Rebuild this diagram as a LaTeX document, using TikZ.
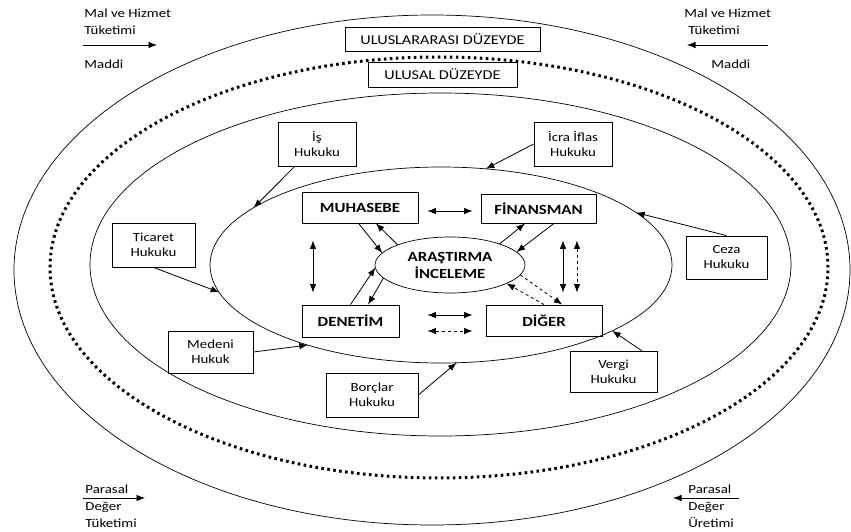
\documentclass[tikz,border=0pt]{standalone}
\usepackage{fontspec}
\setmainfont[FakeStretch=1.2]{Carlito}
\usetikzlibrary{shapes.geometric,arrows.meta}

\begin{document}
\begin{tikzpicture}[x=1pt,y=-1pt,line width=0.8pt,
		halka/.style={draw,ellipse,inner sep=0pt,outer sep=0pt,line width=0.7pt},
		noktali/.style={line width=3pt,dash pattern=on 2.6pt off 3.4pt},
		duzey/.style={draw,inner sep=0pt,minimum height=24,font=\fontsize{13.5}{16}\selectfont},
		hukuk/.style={draw,inner sep=0pt,align=center,font=\fontsize{12.4}{15}\selectfont},
		alan/.style={draw,inner sep=0pt,font=\bfseries\fontsize{14}{17}\selectfont},
		yazi/.style={anchor=base west,inner sep=0pt,font=\fontsize{12.4}{15}\selectfont},
		ok/.style={-{Latex[length=8.5pt,width=6.5pt]}},
		cift/.style={{Latex[length=8.5pt,width=6.5pt]}-{Latex[length=8.5pt,width=6.5pt]}}]
			\useasboundingbox (0,0) rectangle (851,532);
			
			% halkalar
			\node [halka,minimum width=836,minimum height=510] (dis) at (432,270) {};
			\node [halka,noktali,minimum width=778,minimum height=421] (nokta) at (439,267.5) {};
			\node [halka,minimum width=701,minimum height=343] (orta) at (440.5,264.5) {};
			\node [halka,minimum width=462,minimum height=196] (ic) at (441,265) {};
			\node [halka,align=center,font=\bfseries\fontsize{14}{17}\selectfont,minimum width=150,minimum height=56] (ara) at (450,265) {ARAŞTIRMA\\İNCELEME};
			
			\node [duzey,minimum width=195] (ulusarasi) at (442.5,39) {ULUSLARARASI DÜZEYDE};
			\node [duzey,minimum width=149,minimum height=25] (ulusal) at (442.5,74.5) {ULUSAL DÜZEYDE};
			
			\node [alan,minimum width=116,minimum height=31] (muh) at (360,207.5) {MUHASEBE};
			\node [alan,minimum width=115,minimum height=29] (fin) at (538.5,208.5) {FİNANSMAN};
			\node [alan,minimum width=97,minimum height=32] (den) at (350.5,321) {DENETİM};
			\node [alan,minimum width=116,minimum height=31] (dig) at (544,320.5) {DİĞER};
			
			\node [hukuk,minimum width=78,minimum height=44] (is) at (317,144) {İş\\Hukuku};
			\node [hukuk,minimum width=78,minimum height=44] (icra) at (573,144) {İcra İflas\\Hukuku};
			\node [hukuk,minimum width=83,minimum height=44] (ticaret) at (153.5,245) {Ticaret\\Hukuku};
			\node [hukuk,minimum width=85,minimum height=42] (medeni) at (210.5,352) {Medeni\\Hukuk};
			\node [hukuk,minimum width=81,minimum height=43] (ceza) at (726.5,257.5) {Ceza\\Hukuku};
			\node [hukuk,minimum width=87,minimum height=41] (vergi) at (613.5,372) {Vergi\\Hukuku};
			\node [hukuk,minimum width=92,minimum height=44] (borclar) at (372,395) {Borçlar\\Hukuku};
			
			% kenar yazilari
			\node [yazi] (malsol) at (84,18) {Mal ve Hizmet};
			\node [yazi] (tuksol) at (84,35) {Tüketimi};
			\node [yazi] (maddisol) at (84,69) {Maddi};
			\coordinate (ustsol1) at (83,45);
			\coordinate (ustsol2) at (157,45);
			
			\node [yazi] (malsag) at (684,18) {Mal ve Hizmet};
			\node [yazi] (tuksag) at (688,35) {Tüketimi};
			\node [yazi] (maddisag) at (711,69) {Maddi};
			\coordinate (ustsag1) at (768,45);
			\coordinate (ustsag2) at (687,45);
			
			\node [yazi] (parsol) at (85,493) {Parasal};
			\node [yazi] (degsol) at (85,510) {Değer};
			\node [yazi] (tuketim) at (85,527) {Tüketimi};
			\coordinate (altsol1) at (83,498);
			\coordinate (altsol2) at (145,498);
			
			\node [yazi] (parsag) at (688,493) {Parasal};
			\node [yazi] (degsag) at (688,510) {Değer};
			\node [yazi] (uretim) at (688,527) {Üretimi};
			\coordinate (altsag1) at (739,498);
			\coordinate (altsag2) at (673,498);
			
			\draw [ok] (ustsol1) -- (ustsol2);
			\draw [ok] (ustsag1) -- (ustsag2);
			\draw [ok] (altsol1) -- (altsol2);
			\draw [ok] (altsag1) -- (altsag2);
			
			% hukuk oklari
			\draw [ok] (is) -- (ic.163.5);
			\draw [ok] (icra.west) -- (ic.65.5);
			\draw [ok] (ticaret.south) -- (ic.187);
			\draw [ok] (medeni.east) -- (ic.211.7);
			\draw [ok] (ceza.north) -- (ic.15);
			\draw [ok] (vergi.36) -- (ic.339.3);
			\draw [ok] (borclar.east) -- (ic.279.6);
			
			% ic oklar
			\draw [ok] (muh.-95) -- (ara.170);
			\draw [ok] (ara.159) -- (muh.-45);
			\draw [ok] (ara.23) -- (fin.228);
			\draw [ok] (fin.-44) -- (ara.11);
			\draw [ok] (den.north) -- (ara.182);
			\draw [ok] (ara.191) -- (den.43);
			\draw [ok,dashed] (ara.-8) -- (dig.41);
			\draw [ok,dashed] (dig.north) -- (ara.-18);
			
			\draw [cift,shorten <=9,shorten >=8] ([yshift=-3.5]muh.east) -- ([yshift=-2.5]fin.west);
			\draw [cift,shorten <=28,shorten >=13] ([yshift=6]den.east) -- ([yshift=5.5]dig.west);
			\draw [cift,dashed,shorten <=28,shorten >=13] ([yshift=-10]den.east) -- ([yshift=-10.5]dig.west);
			\draw [cift,shorten <=17,shorten >=12] ([xshift=-47]muh.south) -- ([xshift=-37.5]den.north);
			\draw [cift,shorten <=17,shorten >=12] ([xshift=24.5]fin.south) -- ([xshift=19]dig.north);
			\draw [cift,dashed,shorten <=17,shorten >=12] ([xshift=38.5]fin.south) -- ([xshift=33]dig.north);
		\end{tikzpicture}
\end{document}
